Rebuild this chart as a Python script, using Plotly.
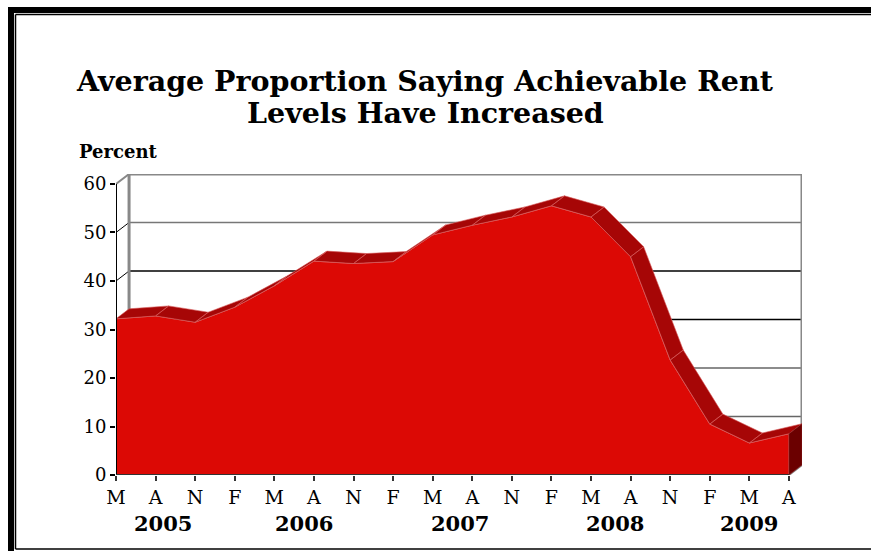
import plotly.graph_objects as go

# ---------------- data ----------------
quarter_labels = ["M", "A", "N", "F", "M", "A", "N", "F", "M", "A", "N", "F", "M", "A", "N", "F", "M", "A"]
values = [32.2, 32.8, 31.5, 34.6, 39.0, 44.1, 43.6, 44.0, 49.5, 51.5, 53.2, 55.5, 53.2, 45.0, 23.7, 10.5, 6.6, 8.5]
year_labels = ["2005", "2006", "2007", "2008", "2009"]
y_ticks = [0, 10, 20, 30, 40, 50, 60]
title_lines = ["Average Proportion Saying Achievable Rent", "Levels Have Increased"]

# ---------------- layout constants ----------------
W, H = 871, 551
ML, MT, MR, MB = 116, 174, 69, 76
PW, PH = W - ML - MR, H - MT - MB
DX, DY = 0.33, 2.06          # 3-D depth offset in data units
year_pos = [1.19, 4.75, 8.69, 12.6, 16.0]
title_y = [81, 113]
FRONT = "#DC0905"
TOP = "#A60606"
SIDE = "#6B0000"
SERIF = "DejaVu Serif"

n = len(values)
last = n - 1
XMAX = last + DX
YMAX = 60 + DY


def px_x(px):
    return (px - ML) / PW


def px_y(py):
    return (H - MB - py) / PH


fig = go.Figure()

# front face of the area
fx = list(range(n)) + [last, 0]
fy = values + [0, 0]
fig.add_trace(go.Scatter(x=fx, y=fy, fill="toself", fillcolor=FRONT, mode="lines",
                         line=dict(width=0.8, color="#E77070"), hoverinfo="skip", showlegend=False))

# top ribbon
rx, ry = [], []
for i in range(n - 1):
    rx += [i, i + 1, i + 1 + DX, i + DX, i, None]
    ry += [values[i], values[i + 1], values[i + 1] + DY, values[i] + DY, values[i], None]
fig.add_trace(go.Scatter(x=rx, y=ry, fill="toself", fillcolor=TOP, mode="lines",
                         line=dict(width=0.6, color="#D86060"), hoverinfo="skip", showlegend=False))

# right side face
sx = [last, last, last + DX, last + DX, last]
sy = [0, values[-1], values[-1] + DY, DY, 0]
fig.add_trace(go.Scatter(x=sx, y=sy, fill="toself", fillcolor=SIDE, mode="lines",
                         line=dict(width=0.6, color="#8A2020"), hoverinfo="skip", showlegend=False))

shapes = []
grid_colors = {10: "#666666", 20: "#666666", 30: "#000000", 40: "#000000", 50: "#777777"}
for g in y_ticks[1:-1]:
    shapes.append(dict(type="line", xref="x", yref="y", x0=DX, x1=XMAX, y0=g + DY, y1=g + DY,
                       line=dict(color=grid_colors[g], width=1.5), layer="below"))
    shapes.append(dict(type="line", xref="x", yref="y", x0=0, x1=DX, y0=g, y1=g + DY,
                       line=dict(color="#000000", width=1), layer="below"))
# back wall frame
wall = dict(color="#888888", width=3)
shapes.append(dict(type="line", xref="x", yref="y", x0=DX, x1=XMAX, y0=YMAX, y1=YMAX, line=wall, layer="below"))
shapes.append(dict(type="line", xref="x", yref="y", x0=0, x1=DX, y0=60, y1=YMAX, line=dict(color="#888888", width=2), layer="below"))
shapes.append(dict(type="line", xref="x", yref="y", x0=DX, x1=DX, y0=DY, y1=YMAX, line=wall, layer="below"))
shapes.append(dict(type="line", xref="x", yref="y", x0=XMAX, x1=XMAX, y0=DY, y1=YMAX, line=wall, layer="below"))
shapes.append(dict(type="line", xref="x", yref="y", x0=last, x1=XMAX, y0=0, y1=DY, line=dict(color="#888888", width=2), layer="below"))
# front axes
shapes.append(dict(type="line", xref="x", yref="y", x0=0, x1=0, y0=0, y1=60, line=dict(color="#000000", width=2), layer="above"))
shapes.append(dict(type="line", xref="x", yref="y", x0=0, x1=last, y0=0, y1=0, line=dict(color="#333333", width=2), layer="above"))

# outer frame
shapes.append(dict(type="line", xref="paper", yref="paper", x0=px_x(11), x1=px_x(11), y0=px_y(7), y1=px_y(H + 20), line=dict(color="black", width=6)))
shapes.append(dict(type="line", xref="paper", yref="paper", x0=px_x(8), x1=px_x(W + 20), y0=px_y(10), y1=px_y(10), line=dict(color="black", width=6)))
shapes.append(dict(type="line", xref="paper", yref="paper", x0=px_x(15.5), x1=px_x(15.5), y0=px_y(14.5), y1=px_y(549), line=dict(color="black", width=1.5)))
shapes.append(dict(type="line", xref="paper", yref="paper", x0=px_x(15.5), x1=px_x(W + 20), y0=px_y(14.5), y1=px_y(14.5), line=dict(color="black", width=1.5)))
shapes.append(dict(type="line", xref="paper", yref="paper", x0=px_x(15.5), x1=px_x(W + 20), y0=px_y(549), y1=px_y(549), line=dict(color="black", width=1.5)))

annotations = []
for line_text, ty in zip(title_lines, title_y):
    annotations.append(dict(text="<b>%s</b>" % line_text,
                            xref="paper", yref="paper", x=px_x(425), y=px_y(ty), xanchor="center", yanchor="middle",
                            showarrow=False, font=dict(family=SERIF, size=28.5, color="black")))
annotations.append(dict(text="<b>Percent</b>", xref="paper", yref="paper", x=px_x(77), y=px_y(151),
                        xanchor="left", yanchor="middle", showarrow=False,
                        font=dict(family=SERIF, size=18, color="black")))
for lab, p in zip(year_labels, year_pos):
    annotations.append(dict(text="<b>%s</b>" % lab, xref="x", yref="paper", x=p, y=px_y(523),
                            xanchor="center", yanchor="middle", showarrow=False,
                            font=dict(family=SERIF, size=21, color="black")))

fig.update_layout(
    width=W, height=H,
    margin=dict(l=ML, r=MR, t=MT, b=MB, pad=0),
    paper_bgcolor="white", plot_bgcolor="rgba(0,0,0,0)",
    shapes=shapes, annotations=annotations, showlegend=False,
    xaxis=dict(range=[0, XMAX], tickvals=list(range(n)), ticktext=quarter_labels,
               ticks="outside", ticklen=5, tickwidth=1.5, tickcolor="#333333",
               showgrid=False, zeroline=False, showline=False, fixedrange=True,
               tickfont=dict(family=SERIF, size=19, color="black")),
    yaxis=dict(range=[0, YMAX], tickvals=y_ticks, ticks="outside", ticklen=5, tickwidth=1.5,
               tickcolor="#000000", showgrid=False, zeroline=False, showline=False, fixedrange=True,
               tickfont=dict(family=SERIF, size=18, color="black")),
)

fig.write_html("out.html", config={"displayModeBar": False})
